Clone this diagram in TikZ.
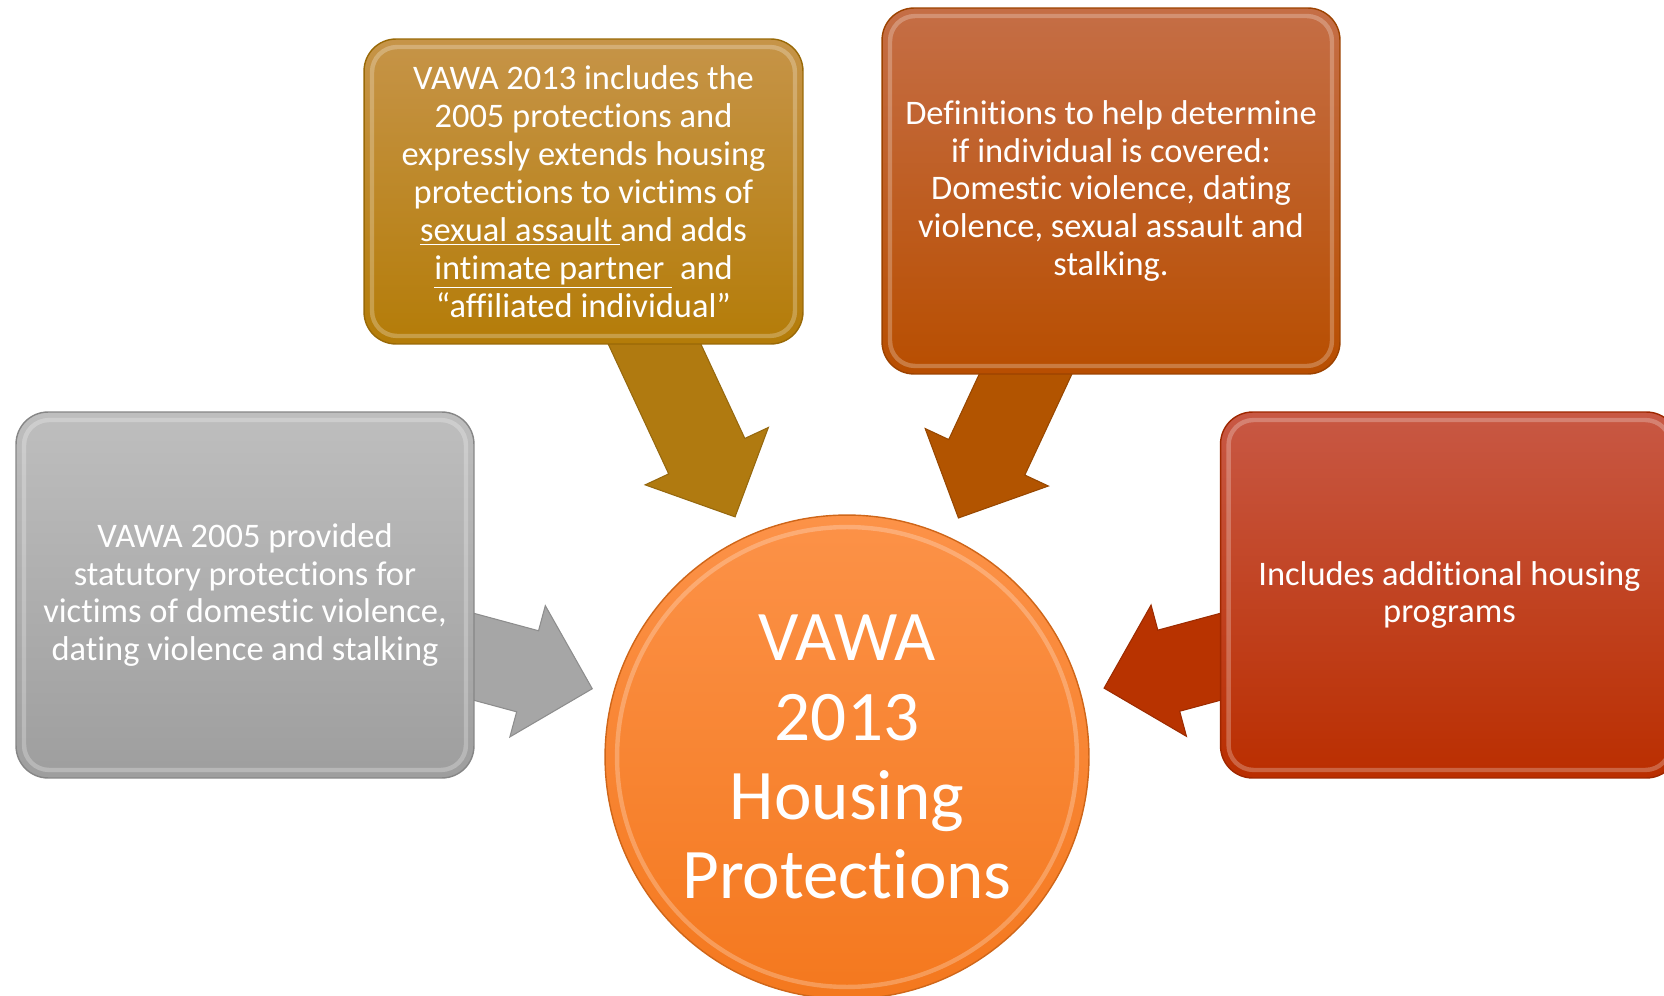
\documentclass[tikz,border=0pt]{standalone}
\usepackage{fontspec}
\setmainfont{Carlito}[Ligatures=NoCommon]
\usetikzlibrary{calc,backgrounds}
\definecolor{grayhi}{RGB}{190,190,190}
\definecolor{graylo}{RGB}{158,158,158}
\definecolor{goldhi}{RGB}{198,148,72}
\definecolor{goldlo}{RGB}{180,124,8}
\definecolor{ornghi}{RGB}{197,110,70}
\definecolor{ornglo}{RGB}{184,78,0}
\definecolor{redhi}{RGB}{200,88,68}
\definecolor{redlo}{RGB}{186,46,0}
\definecolor{hubhi}{RGB}{252,146,72}
\definecolor{hublo}{RGB}{244,120,30}
\definecolor{arrowgray}{RGB}{166,166,166}
\definecolor{arrowgold}{RGB}{176,122,16}
\definecolor{arrowor}{RGB}{178,84,0}
\definecolor{arrowred}{RGB}{184,51,0}
\newcommand{\blockarrow}[3]{%
  \filldraw[fill=#3, draw=#3!85!black, line width=0.6pt]
    ($(#1)!0.84cm!90:(#2)$) -- ($(#2)!1.34cm!(#1)!0.84cm!-90:(#1)$)
    -- ($(#2)!1.34cm!(#1)!1.36cm!-90:(#1)$) -- (#2)
    -- ($(#2)!1.34cm!(#1)!1.36cm!90:(#1)$) -- ($(#2)!1.34cm!(#1)!0.84cm!90:(#1)$)
    -- ($(#1)!0.84cm!-90:(#2)$) -- cycle;}

\begin{document}
\begin{tikzpicture}[x=0.02cm, y=-0.02cm,
    box/.style={rounded corners=0.64cm, minimum width=9.16cm, minimum height=7.32cm,
      inner sep=0pt, outer sep=0pt, align=center, text=white, line width=0.8pt,
      font=\fontsize{19.6}{21.6}\selectfont,
      path picture={\draw[white, opacity=0.25, line width=2.5pt, rounded corners=0.5cm]
        ([shift={(0.16cm,-0.16cm)}]path picture bounding box.north west) rectangle
        ([shift={(-0.16cm,0.16cm)}]path picture bounding box.south east);}},
    hubnode/.style={circle, minimum size=9.68cm, inner sep=0pt, outer sep=0pt,
      align=center, text=white, font=\fontsize{40.5}{45}\selectfont,
      top color=hubhi, bottom color=hublo, draw=hublo!85!black, line width=0.8pt,
      path picture={\draw[white, opacity=0.25, line width=2.5pt]
        (path picture bounding box.center) circle (4.6cm);}}]
  \useasboundingbox (0,0) rectangle (1664,996);
  \clip (0,0) rectangle (1664,996);

  \node[box, top color=grayhi, bottom color=graylo, draw=graylo!85!black] (box2005) at (245,595)
    {VAWA 2005 provided\\statutory protections for\\victims of domestic violence,\\dating violence and stalking};
  \node[box, minimum width=8.78cm, minimum height=6.1cm, top color=goldhi, bottom color=goldlo,
    draw=goldlo!85!black] (box2013) at (583.5,191.5)
    {VAWA 2013 includes the\\2005 protections and\\expressly extends housing\\protections to victims of\\
     \underline{sexual assault\ }and adds\\\underline{intimate partner\ }\ and\\“affiliated individual”};
  \node[box, top color=ornghi, bottom color=ornglo, draw=ornglo!85!black] (boxdef) at (1111,191)
    {Definitions to help determine\\if individual is covered:\\Domestic violence, dating\\violence, sexual assault and\\stalking.};
  \node[box, top color=redhi, bottom color=redlo, draw=redlo!85!black] (boxprog) at (1449.5,595)
    {Includes additional housing\\programs};
  \node[hubnode] (hub) at (847,757) {VAWA\\2013\\Housing\\Protections};

  \begin{scope}[on background layer]
    \foreach \b/\a/\r/\c in {box2005/165/1.09/arrowgray, box2013/115/1.095/arrowgold,
        boxdef/65/1.09/arrowor, boxprog/15/1.1/arrowred} {
      \coordinate (tip\b) at ($(hub)!\r!(hub.\a)$);
      \blockarrow{\b}{tip\b}{\c}
    }
  \end{scope}
\end{tikzpicture}
\end{document}
